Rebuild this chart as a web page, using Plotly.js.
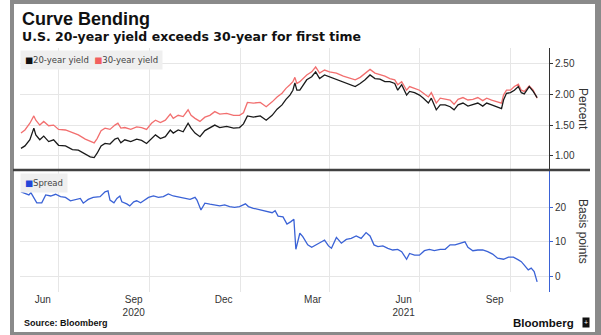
<!DOCTYPE html>
<html><head><meta charset="utf-8">
<script src="https://cdn.plot.ly/plotly-3.0.1.min.js"></script>
<style>
html,body{margin:0;padding:0;background:#fff;}
#frame{position:absolute;left:10px;top:0;width:581px;height:328px;border-style:solid;border-color:#8a8a8a;border-width:4px 6px 3px 4px;}
#chart{position:absolute;left:0;top:0;width:601px;height:335px;}
</style></head>
<body>
<div id="frame"></div>
<div id="chart"></div>
<script>
// ---- data ----
const yieldDates = ['2020-05-24','2020-05-28','2020-06-02','2020-06-06','2020-06-08','2020-06-12','2020-06-16','2020-06-21','2020-06-26','2020-07-01','2020-07-08','2020-07-15','2020-07-21','2020-07-28','2020-08-02','2020-08-06','2020-08-09','2020-08-13','2020-08-17','2020-08-22','2020-08-27','2020-08-30','2020-09-02','2020-09-06','2020-09-12','2020-09-18','2020-09-23','2020-09-28','2020-10-03','2020-10-07','2020-10-12','2020-10-17','2020-10-22','2020-10-25','2020-10-30','2020-11-04','2020-11-09','2020-11-12','2020-11-16','2020-11-21','2020-11-26','2020-12-01','2020-12-06','2020-12-11','2020-12-18','2020-12-25','2020-12-31','2021-01-04','2021-01-08','2021-01-14','2021-01-21','2021-01-27','2021-02-02','2021-02-07','2021-02-12','2021-02-16','2021-02-20','2021-02-23','2021-02-25','2021-02-27','2021-03-02','2021-03-09','2021-03-14','2021-03-18','2021-03-22','2021-03-27','2021-04-01','2021-04-08','2021-04-15','2021-04-22','2021-04-27','2021-05-02','2021-05-07','2021-05-12','2021-05-17','2021-05-22','2021-05-27','2021-06-01','2021-06-06','2021-06-09','2021-06-13','2021-06-18','2021-06-21','2021-06-26','2021-07-01','2021-07-05','2021-07-10','2021-07-13','2021-07-18','2021-07-22','2021-07-27','2021-08-01','2021-08-05','2021-08-09','2021-08-14','2021-08-19','2021-08-24','2021-08-29','2021-09-03','2021-09-07','2021-09-12','2021-09-17','2021-09-22','2021-09-24','2021-09-27','2021-10-01','2021-10-05','2021-10-09','2021-10-12','2021-10-15','2021-10-20','2021-10-24','2021-10-28'];
const yield20 = [1.12,1.16,1.26,1.45,1.34,1.26,1.32,1.23,1.26,1.17,1.16,1.10,1.09,1.03,0.98,0.97,1.04,1.16,1.20,1.19,1.27,1.29,1.21,1.26,1.23,1.27,1.25,1.20,1.28,1.34,1.28,1.31,1.42,1.37,1.42,1.39,1.53,1.45,1.37,1.31,1.41,1.45,1.50,1.46,1.48,1.45,1.46,1.52,1.65,1.63,1.65,1.58,1.66,1.76,1.83,1.92,1.99,2.07,2.19,2.07,2.07,2.24,2.29,2.37,2.26,2.32,2.29,2.25,2.21,2.16,2.13,2.18,2.24,2.32,2.26,2.25,2.21,2.21,2.18,2.07,2.16,1.99,2.05,2.03,1.99,1.94,1.86,1.94,1.75,1.83,1.83,1.80,1.75,1.83,1.86,1.81,1.83,1.86,1.81,1.86,1.83,1.80,1.77,1.91,2.02,2.03,2.07,2.13,2.03,2.01,2.13,2.05,1.95];
const yield30 = [1.37,1.42,1.53,1.65,1.58,1.50,1.56,1.49,1.50,1.43,1.42,1.37,1.34,1.27,1.23,1.21,1.28,1.41,1.45,1.43,1.50,1.53,1.45,1.46,1.43,1.47,1.46,1.43,1.53,1.58,1.54,1.58,1.68,1.61,1.66,1.64,1.75,1.66,1.61,1.56,1.63,1.66,1.72,1.68,1.69,1.66,1.66,1.70,1.87,1.86,1.87,1.80,1.88,1.96,2.02,2.10,2.16,2.21,2.28,2.18,2.21,2.32,2.37,2.45,2.35,2.40,2.37,2.35,2.30,2.26,2.24,2.28,2.35,2.41,2.35,2.33,2.30,2.26,2.24,2.16,2.21,2.07,2.13,2.10,2.07,2.02,1.96,2.03,1.86,1.94,1.92,1.91,1.84,1.92,1.95,1.91,1.92,1.95,1.90,1.94,1.91,1.88,1.86,1.99,2.07,2.07,2.13,2.17,2.07,2.05,2.14,2.07,1.94];
const spreadDates = ['2020-05-24','2020-05-28','2020-06-01','2020-06-03','2020-06-06','2020-06-09','2020-06-14','2020-06-18','2020-06-23','2020-06-28','2020-07-03','2020-07-08','2020-07-13','2020-07-18','2020-07-23','2020-07-26','2020-07-31','2020-08-05','2020-08-12','2020-08-17','2020-08-20','2020-08-22','2020-08-26','2020-08-29','2020-09-01','2020-09-03','2020-09-08','2020-09-11','2020-09-15','2020-09-18','2020-09-22','2020-09-25','2020-09-30','2020-10-05','2020-10-10','2020-10-15','2020-10-20','2020-10-25','2020-11-01','2020-11-06','2020-11-11','2020-11-16','2020-11-18','2020-11-22','2020-11-26','2020-12-01','2020-12-06','2020-12-11','2020-12-16','2020-12-21','2020-12-26','2020-12-31','2021-01-06','2021-01-09','2021-01-14','2021-01-21','2021-01-27','2021-02-02','2021-02-05','2021-02-08','2021-02-13','2021-02-17','2021-02-21','2021-02-24','2021-02-26','2021-02-28','2021-03-02','2021-03-05','2021-03-10','2021-03-14','2021-03-19','2021-03-24','2021-03-27','2021-03-31','2021-04-03','2021-04-08','2021-04-13','2021-04-18','2021-04-23','2021-04-28','2021-05-03','2021-05-08','2021-05-12','2021-05-16','2021-05-20','2021-05-25','2021-05-30','2021-06-04','2021-06-09','2021-06-13','2021-06-18','2021-06-21','2021-06-26','2021-07-01','2021-07-06','2021-07-11','2021-07-16','2021-07-22','2021-07-27','2021-08-01','2021-08-06','2021-08-11','2021-08-16','2021-08-19','2021-08-24','2021-08-29','2021-09-03','2021-09-08','2021-09-13','2021-09-18','2021-09-24','2021-09-29','2021-10-04','2021-10-09','2021-10-12','2021-10-15','2021-10-19','2021-10-22','2021-10-25','2021-10-28'];
const spreadBp = [24.6,24.2,23.7,24.4,22.7,21.4,21.4,23.7,23.4,23.9,23.2,23.0,22.0,22.4,22.7,21.3,22.4,23.0,23.2,24.6,24.9,22.2,21.4,22.7,23.4,21.7,21.1,20.5,21.7,22.0,21.4,22.0,23.0,23.4,23.0,23.2,24.0,23.4,23.0,22.7,22.4,23.0,22.2,19.3,21.3,21.0,20.8,20.5,20.8,20.3,20.1,20.3,21.1,20.3,19.8,19.3,18.8,18.5,19.1,17.5,17.3,15.2,15.9,16.6,7.8,10.5,12.5,11.5,9.1,8.4,9.1,10.0,10.5,8.8,8.1,11.3,9.6,10.7,11.0,11.7,11.0,12.7,11.7,9.1,8.6,8.8,8.1,7.6,7.8,7.1,4.9,6.6,6.1,6.1,7.4,7.8,7.4,7.8,7.8,9.1,9.1,9.6,10.0,8.4,7.4,7.6,7.6,7.1,6.4,5.2,4.9,5.5,5.5,4.7,4.2,3.2,1.8,2.3,1.3,-1.7];
const monthTickVals = ['2020-06-15','2020-09-15','2020-12-15','2021-03-15','2021-06-15','2021-09-15'];
const monthTickText = ['Jun','Sep<br>2020','Dec','Mar','Jun<br>2021','Sep'];
const pctTickVals = [1.0,1.5,2.0,2.5];
const pctTickText = ['1.00','1.50','2.00','2.50'];
const bpTickVals = [0,10,20];
const bpTickText = ['0','10','20'];

// ---- layout helpers ----
const W=601,H=335,L=20,R=52,T=48,B=43;
const px = x => (x-L)/(W-L-R);
const py = y => (H-B-y)/(H-T-B);
const FONT = 'Liberation Sans, Arial, sans-serif';
const WIDE = 'DejaVu Sans, Verdana, sans-serif';
const grid = '#e6e6e6';
const blue = '#3a62d6';

const traces = [
  {x: yieldDates, y: yield30, xaxis:'x', yaxis:'y', mode:'lines', line:{color:'#f26f6f', width:1.3}, name:'30-year yield'},
  {x: yieldDates, y: yield20, xaxis:'x', yaxis:'y', mode:'lines', line:{color:'#1a1a1a', width:1.3}, name:'20-year yield'},
  {x: spreadDates, y: spreadBp, xaxis:'x2', yaxis:'y2', mode:'lines', line:{color:blue, width:1.3}, name:'Spread'}
];

const xcommon = {
  range:['2020-05-23','2021-11-09'], type:'date',
  tickmode:'array', tickvals: monthTickVals, ticktext: monthTickText,
  showgrid:false, zeroline:false, showline:false, ticks:'',
  minor:{tickmode:'linear', tick0:'2020-01-01', dtick:'M3', showgrid:true, gridcolor:grid, gridwidth:1, ticks:''},
  tickfont:{family:FONT, size:10, color:'#333'}
};

const layout = {
  width:W, height:H, margin:{l:L, r:R, t:T, b:B, pad:0},
  paper_bgcolor:'rgba(0,0,0,0)', plot_bgcolor:'rgba(0,0,0,0)',
  showlegend:false,
  font:{family:FONT, color:'#333'},
  xaxis: Object.assign({}, xcommon, {domain:[0,1], anchor:'y', showticklabels:false}),
  xaxis2: Object.assign({}, xcommon, {domain:[0,1], anchor:'y2', matches:'x', showticklabels:true}),
  yaxis: {domain:[0.5,1], anchor:'x', side:'right', range:[0.766,2.76],
    tickmode:'array', tickvals:pctTickVals, ticktext:pctTickText,
    ticks:'outside', ticklen:3, tickcolor:'#333', showline:true, linecolor:'#333', linewidth:1,
    showgrid:true, gridcolor:grid, zeroline:false, tickfont:{family:FONT, size:10, color:'#333'}},
  yaxis2: {domain:[0,0.5], anchor:'x2', side:'right', range:[-4.68,31],
    tickmode:'array', tickvals:bpTickVals, ticktext:bpTickText,
    ticks:'outside', ticklen:3, tickcolor:blue, showline:true, linecolor:blue, linewidth:1,
    showgrid:true, gridcolor:grid, zeroline:false, tickfont:{family:FONT, size:10, color:'#333'}},
  shapes:[
    {type:'line', xref:'paper', yref:'paper', x0:px(13), x1:px(590), y0:py(170), y1:py(170), line:{color:'#404040', width:2.5}}
  ],
  annotations:[
    {xref:'paper', yref:'paper', x:px(20), y:py(19.5), xanchor:'left', yanchor:'middle', showarrow:false,
      text:'<b>Curve Bending</b>', font:{family:FONT, size:18, color:'#111'}},
    {xref:'paper', yref:'paper', x:px(20), y:py(37), xanchor:'left', yanchor:'middle', showarrow:false,
      text:'<b>U.S. 20-year yield exceeds 30-year for first time</b>', font:{family:WIDE, size:12.5, color:'#111'}},
    {xref:'paper', yref:'paper', x:px(20), y:py(50), xanchor:'left', yanchor:'top', showarrow:false,
      bgcolor:'#efefef', borderpad:4,
      text:'<span style="color:#111">■</span>20-year yield  <span style="color:#f25f5f">■</span>30-year yield',
      font:{family:WIDE, size:8.5, color:'#444'}},
    {xref:'paper', yref:'paper', x:px(20), y:py(172.5), xanchor:'left', yanchor:'top', showarrow:false,
      bgcolor:'#efefef', borderpad:4,
      text:'<span style="color:#2346d8">■</span>Spread',
      font:{family:WIDE, size:8.5, color:'#444'}},
    {xref:'paper', yref:'paper', x:px(583), y:py(109), xanchor:'center', yanchor:'middle', showarrow:false,
      textangle:90, text:'Percent', font:{family:FONT, size:12, color:'#333'}},
    {xref:'paper', yref:'paper', x:px(583), y:py(231), xanchor:'center', yanchor:'middle', showarrow:false,
      textangle:90, text:'Basis points', font:{family:FONT, size:12, color:'#333'}},
    {xref:'paper', yref:'paper', x:px(22), y:py(323), xanchor:'left', yanchor:'middle', showarrow:false,
      text:'<b>Source: Bloomberg</b>', font:{family:FONT, size:9, color:'#111'}},
    {xref:'paper', yref:'paper', x:px(576), y:py(322.5), xanchor:'right', yanchor:'middle', showarrow:false,
      text:'<b>Bloomberg</b>', font:{family:FONT, size:11.5, color:'#111'}},
    {xref:'paper', yref:'paper', x:px(585.5), y:py(322.5), xanchor:'center', yanchor:'middle', showarrow:false,
      bgcolor:'#111', borderpad:1, text:'+', font:{family:FONT, size:7, color:'#fff'}}
  ]
};

Plotly.newPlot('chart', traces, layout, {staticPlot:true, displayModeBar:false});
</script>
</body></html>
